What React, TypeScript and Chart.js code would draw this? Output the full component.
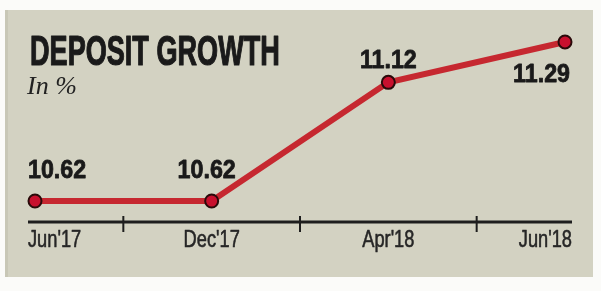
import React, { useEffect, useRef } from "react";
import { Chart, registerables } from "chart.js";

Chart.register(...registerables);

const categories: string[] = ["Jun'17", "Dec'17", "Apr'18", "Jun'18"];
const depositGrowth: number[] = [10.62, 10.62, 11.12, 11.29];
const valueLabels: string[] = ["10.62", "10.62", "11.12", "11.29"];
const titleText = "DEPOSIT GROWTH";
const subtitleText = "In %";

// label placement per point: [align, dx, dy(baseline relative to point)]
const labelPlacement: [CanvasTextAlign, number, number][] = [
  ["left", -7, -23],
  ["center", -5, -23],
  ["center", 0, -14],
  ["right", 5, 40],
];

function drawScaledText(
  ctx: CanvasRenderingContext2D,
  text: string,
  x: number,
  y: number,
  font: string,
  color: string,
  align: CanvasTextAlign,
  sx: number,
  stroke = 0
) {
  ctx.save();
  ctx.font = font;
  ctx.fillStyle = color;
  ctx.strokeStyle = color;
  ctx.textBaseline = "alphabetic";
  ctx.textAlign = align;
  ctx.translate(x, y);
  ctx.scale(sx, 1);
  ctx.fillText(text, 0, 0);
  if (stroke > 0) {
    ctx.lineWidth = stroke;
    ctx.lineJoin = "round";
    ctx.strokeText(text, 0, 0);
  }
  ctx.restore();
}

const decorPlugin = {
  id: "decor",
  beforeDraw(chart: any) {
    const { ctx, width, height } = chart;
    ctx.save();
    ctx.fillStyle = "#fbfbf9";
    ctx.fillRect(0, 0, width, height);
    ctx.fillStyle = "#d3d2c2";
    ctx.fillRect(5, 10, 588, 267);
    ctx.fillStyle = "#c8c7b6";
    ctx.fillRect(5, 10, 3, 267);
    ctx.restore();

    drawScaledText(ctx, titleText, 30, 65, "bold 42px 'Liberation Sans', Arial, sans-serif", "#1a1a1a", "left", 0.645, 1.2);
    drawScaledText(ctx, subtitleText, 27, 94, "italic 26px 'Liberation Serif', 'DejaVu Serif', serif", "#222", "left", 1);

    const xs = chart.scales.x;
    const area = chart.chartArea;
    const y0 = area.bottom;
    const x0 = area.left - 7;
    const x1 = area.right + 7;
    ctx.save();
    ctx.strokeStyle = "#1e1e1e";
    ctx.lineWidth = 3;
    ctx.beginPath();
    ctx.moveTo(x0, y0);
    ctx.lineTo(x1, y0);
    ctx.stroke();
    ctx.lineWidth = 2;
    for (let i = 0; i < categories.length - 1; i++) {
      const mx = (xs.getPixelForValue(i) + xs.getPixelForValue(i + 1)) / 2;
      ctx.beginPath();
      ctx.moveTo(mx, y0 - 6);
      ctx.lineTo(mx, y0 + 10);
      ctx.stroke();
    }
    ctx.restore();

    categories.forEach((c, i) => {
      let x = xs.getPixelForValue(i);
      let align: CanvasTextAlign = "center";
      if (i === 0) {
        x = x0;
        align = "left";
      } else if (i === categories.length - 1) {
        x = x1;
        align = "right";
      }
      drawScaledText(ctx, c, x, y0 + 25, "24px 'Liberation Sans', Arial, sans-serif", "#262626", align, 0.76, 0.6);
    });
  },
  afterDatasetsDraw(chart: any) {
    const { ctx } = chart;
    const meta = chart.getDatasetMeta(0);
    meta.data.forEach((pt: any, i: number) => {
      const [align, dx, dy] = labelPlacement[i];
      drawScaledText(ctx, valueLabels[i], pt.x + dx, pt.y + dy, "bold 25px 'Liberation Sans', Arial, sans-serif", "#1a1a1a", align, 0.93, 0.8);
    });
  },
};

export default function App() {
  const ref = useRef<HTMLCanvasElement | null>(null);
  useEffect(() => {
    document.body.style.margin = "0";
    if (!ref.current) return;
    const chart = new Chart(ref.current, {
      type: "line",
      data: {
        labels: categories,
        datasets: [
          {
            data: depositGrowth,
            borderColor: "#c62830",
            borderWidth: 6,
            pointRadius: 6.5,
            pointBorderWidth: 2,
            pointBackgroundColor: "#c8102e",
            pointBorderColor: "#2a0a0a",
            tension: 0,
            clip: false as any,
          },
        ],
      },
      options: {
        responsive: false,
        animation: false,
        devicePixelRatio: 1,
        layout: { padding: { left: 35, right: 36, top: 30, bottom: 69 } },
        plugins: { legend: { display: false }, tooltip: { enabled: false }, title: { display: false } },
        scales: {
          x: { type: "category", display: false, offset: false },
          y: { display: false, min: 10.5315, max: 11.3405 },
        },
      },
      plugins: [decorPlugin],
    });
    return () => chart.destroy();
  }, []);
  return (
    <div style={{ width: 601, height: 291 }}>
      <canvas ref={ref} width={601} height={291} style={{ display: "block", width: 601, height: 291 }} />
    </div>
  );
}
